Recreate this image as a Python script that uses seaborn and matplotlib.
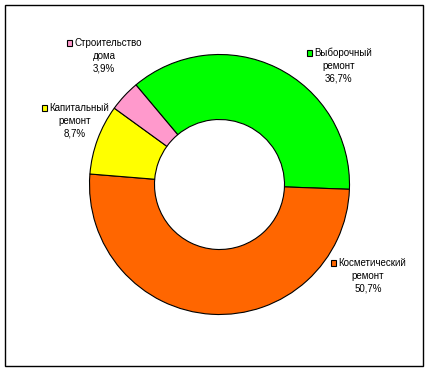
import matplotlib
matplotlib.use("Agg")
import matplotlib.pyplot as plt
import matplotlib.patches as mpatches
import seaborn as sns

# ---- data ----
categories = ["Выборочный\nремонт", "Косметический\nремонт", "Капитальный\nремонт", "Строительство\nдома"]
shares = [36.7, 50.7, 8.7, 3.9]
pct_labels = ["36,7%", "50,7%", "8,7%", "3,9%"]
colors = ["#00FF00", "#FF6600", "#FFFF00", "#FF99CC"]

# ---- layout (pixel positions of label blocks: centre x, first line y) ----
W, H = 428, 371
label_pos = [(339, 53), (368, 263), (75, 108), (104, 43)]

sns.set_theme(style="white")
plt.rcParams["font.family"] = ["Liberation Sans", "DejaVu Sans"]

fig = plt.figure(figsize=(W / 100, H / 100), dpi=100)
fig.patch.set_facecolor("white")
ax = fig.add_axes([0, 0, 1, 1])

cx, cy, R = 219.5, H - 184.5, 130
ax.pie(shares, colors=colors, startangle=130, counterclock=False,
       center=(cx, cy), radius=R,
       wedgeprops=dict(width=R * 0.5, edgecolor="black", linewidth=0.8))
ax.set_xlim(0, W)
ax.set_ylim(0, H)
ax.set_aspect("equal")
ax.axis("off")

fs = 7.0
lh = 12.6
fig.canvas.draw()
renderer = fig.canvas.get_renderer()
for cat, pct, col, (lx, ly) in zip(categories, pct_labels, colors, label_pos):
    lines = cat.split("\n") + [pct]
    t0 = ax.text(lx + 4, H - ly, lines[0], ha="center", va="center", fontsize=fs, color="black")
    for i, ln in enumerate(lines[1:], start=1):
        ax.text(lx, H - ly - i * lh, ln, ha="center", va="center", fontsize=fs, color="black")
    bb = t0.get_window_extent(renderer)
    x_left = bb.x0
    ax.add_patch(mpatches.Rectangle((x_left - 7.5, H - ly - 2.8), 5.6, 5.6, facecolor=col,
                                    edgecolor="black", linewidth=0.8))

fig.add_artist(mpatches.Rectangle((5 / W, 5 / H), 418 / W, 361 / H, transform=fig.transFigure,
                                  fill=False, edgecolor="black", linewidth=1.0))

fig.savefig("out.png", dpi=100, facecolor="white")
